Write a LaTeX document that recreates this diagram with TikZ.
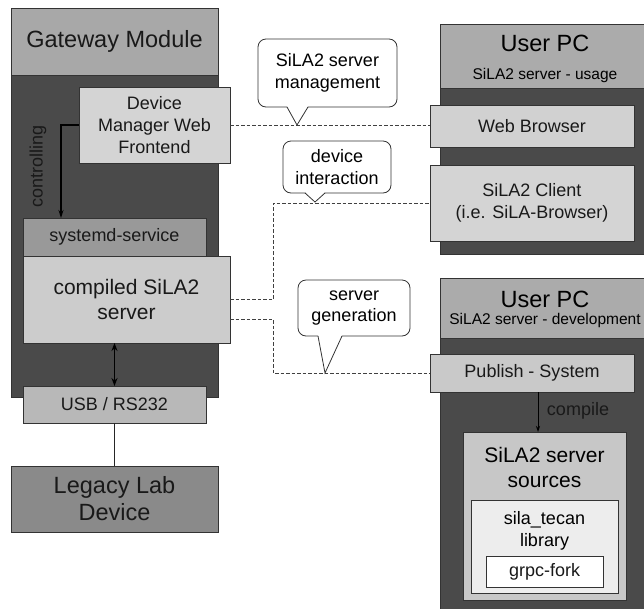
\documentclass[tikz,border=0pt]{standalone}
\usepackage{fontspec}
\setmainfont{Liberation Sans}
\usetikzlibrary{arrows.meta}

\begin{document}
\begin{tikzpicture}[x=1pt,y=-1pt,
        box/.style={draw=black!80,line width=0.8pt,inner sep=0pt,outer sep=0pt,
            align=center,text=black!90},
        txt/.style={font=\fontsize{18}{21.6}\selectfont},
        big/.style={font=\fontsize{23.5}{27}\selectfont},
        mid/.style={font=\fontsize{21}{24.5}\selectfont},
        sub/.style={font=\fontsize{15.5}{18}\selectfont},
        link/.style={dash pattern=on 3.5pt off 2pt,draw=black!75,line width=1pt},
        bubble/.style={draw=black!80,fill=white,rounded corners=8pt,line width=0.8pt,
            inner sep=0pt,align=center,font=\fontsize{18}{21.6}\selectfont}
    ]
    \useasboundingbox (0,0) rectangle (644,608);

    % gateway module
    \node[box,fill=black!71,minimum width=207pt,minimum height=322pt] (gwbody) at (114.5,236) {};
    \node[box,fill=black!34,big,minimum width=207pt,minimum height=67pt] (gwhead) at (114.5,41.5) {Gateway Module};
    \node[box,fill=black!17,txt,minimum width=151pt,minimum height=76pt] (dmwf) at (154.5,125) {Device\\Manager Web\\Frontend};
    \node[box,fill=black!40,txt,minimum width=183pt,minimum height=38pt] (systemd) at (114.5,237) {systemd-service};
    \node[box,fill=black!20,mid,minimum width=207pt,minimum height=87pt] (compiled) at (126.5,299.5) {compiled SiLA2\\server};
    \node[box,fill=black!28,txt,minimum width=183pt,minimum height=37pt] (usb) at (114.5,404.5) {USB / RS232};
    \node[box,fill=black!46,big,minimum width=207pt,minimum height=66pt] (legacy) at (114.5,499) {Legacy Lab\\Device};

    \draw[-{Stealth[length=8pt,width=5pt]},line width=1.2pt] (dmwf.west) -| ([xshift=-53.5pt]systemd.north);
    \node[txt,rotate=90,text=black!90] (ctrl) at (38,166) {controlling};
    \draw[{Stealth[length=8pt,width=6pt]}-{Stealth[length=8pt,width=6pt]},line width=1.4pt]
        (usb.north) -- (usb.north |- compiled.south);
    \draw[line width=1pt,black!85] (usb.south) -- (legacy.north);

    % user pc, usage
    \node[box,fill=black!71,minimum width=210pt,minimum height=166pt] (pcabody) at (545,171) {};
    \node[box,fill=black!33,minimum width=210pt,minimum height=64pt] (pcahead) at (545,56) {};
    \node[big] (pcatitle) at (545,43) {User PC};
    \node[sub] (pcasub) at (545,75) {SiLA2 server - usage};
    \node[box,fill=black!18,txt,minimum width=204pt,minimum height=42pt] (web) at (532,126) {Web Browser};
    \node[box,fill=black!17,txt,minimum width=204pt,minimum height=76pt] (client) at (532,203) {SiLA2 Client\\(i.e. SiLA-Browser)};

    % user pc, development
    \node[box,fill=black!71,minimum width=210pt,minimum height=274pt] (pcbbody) at (545,475) {};
    \node[box,fill=black!33,minimum width=210pt,minimum height=60pt] (pcbhead) at (545,308) {};
    \node[big] (pcbtitle) at (545,299) {User PC};
    \node[sub] (pcbsub) at (545,320) {SiLA2 server - development};
    \node[box,fill=black!21,txt,minimum width=204pt,minimum height=38pt] (publish) at (532,373) {Publish - System};
    \node[box,fill=black!22,minimum width=163pt,minimum height=168pt] (sources) at (544.5,516) {};
    \node[mid,align=center] (srctext) at (544.5,467.5) {SiLA2 server\\sources};
    \node[box,fill=black!7,minimum width=147pt,minimum height=93pt] (library) at (544.5,546.5) {};
    \node[txt,align=center] (libtext) at (544.5,531) {sila\_tecan\\library};
    \node[box,fill=white,txt,minimum width=117pt,minimum height=31pt] (grpc) at (544.5,571.5) {grpc-fork};

    \draw[-{Stealth[length=6pt,width=4pt]},line width=0.8pt]
        ([xshift=6pt]publish.south) -- ([xshift=6pt]publish.south |- sources.north);
    \node[txt,text=black!90] (compile) at (578,411) {compile};

    % dashed links
    \coordinate (gen) at (230,319);
    \draw[link] (dmwf.east) -- (dmwf.east -| web.west);
    \draw[link] (compiled.east) -- ++(43,0) |- (client.west);
    \draw[link] (gen) -- ++(43,0) |- (publish.west);

    % callouts
    \node[bubble,minimum width=139pt,minimum height=68pt] (mgmt) at (327.5,73) {SiLA2 server\\management};
    \fill[white] (287,106) -- (297,125) -- (308,106) -- cycle;
    \draw[black!80,line width=0.8pt] (287,107) -- (297,125) -- (308,107);

    \node[bubble,minimum width=108pt,minimum height=52pt] (inter) at (337,167) {device\\interaction};
    \fill[white] (305,192) -- (315,202) -- (325,192) -- cycle;
    \draw[black!80,line width=0.8pt] (305,193) -- (315,202) -- (325,193);

    \node[bubble,minimum width=112pt,minimum height=56pt] (gener) at (354,308) {server\\generation};
    \fill[white] (318,335) -- (325,373) -- (342,335) -- cycle;
    \draw[black!80,line width=0.8pt] (318,336) -- (325,373) -- (342,336);
\end{tikzpicture}
\end{document}
